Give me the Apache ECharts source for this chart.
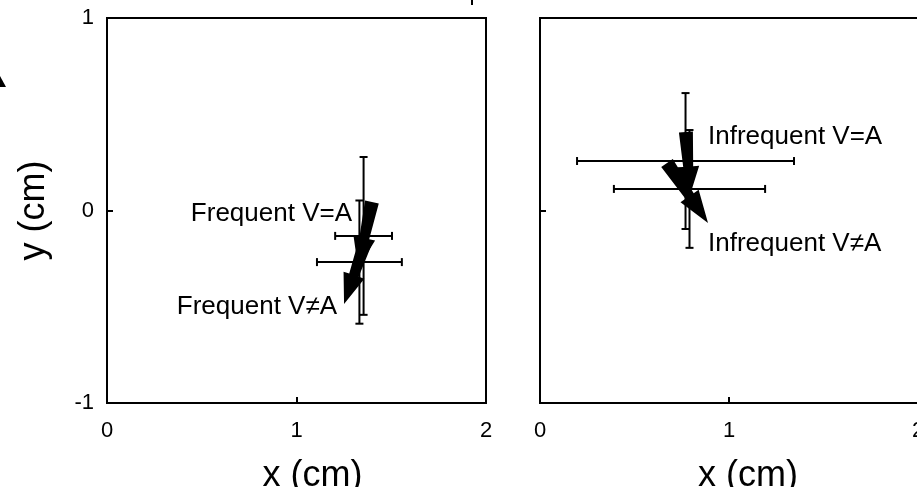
<!DOCTYPE html>
<html><head><meta charset="utf-8">
<script src="https://cdn.jsdelivr.net/npm/echarts@6/dist/echarts.min.js"></script>
<style>html,body{margin:0;padding:0;background:#fff}#c{width:917px;height:487px}</style>
</head><body><div id="c"></div>
<script>
// ---- Data (cm) ----
// Left panel: Frequent
const freqLabels = ['Frequent V=A', 'Frequent V\u2260A'];
const freqMeanX = [1.354, 1.332];
const freqMeanY = [-0.132, -0.268];
const freqErrX = [0.150, 0.224];
const freqErrY = [0.41, 0.32];
const freqArrowStart = [[1.398, 0.044], [1.367, -0.153]];
const freqArrowEnd = [[1.325, -0.299], [1.251, -0.486]];
const freqLabelAt = [[1.293, -0.008], [1.214, -0.491]];
// Right panel: Infrequent
const infreqLabels = ['Infrequent V=A', 'Infrequent V\u2260A'];
const infreqMeanX = [0.770, 0.791];
const infreqMeanY = [0.257, 0.112];
const infreqErrX = [0.574, 0.400];
const infreqErrY = [0.353, 0.306];
const infreqArrowStart = [[0.772, 0.408], [0.672, 0.247]];
const infreqArrowEnd = [[0.794, 0.081], [0.889, -0.065]];
const infreqLabelAt = [[0.889, 0.392], [0.889, -0.164]];
// Axes
const xMin = 0, xMax = 2, xStep = 1;
const yMin = -1, yMax = 1, yStep = 1;
const xTitle = 'x (cm)', yTitle = 'y (cm)';

const FONT = 'Liberation Sans, Arial, Helvetica, sans-serif';
const chart = echarts.init(document.getElementById('c'));

function errRender(params, api) {
  const x = api.value(0), y = api.value(1), ex = api.value(2), ey = api.value(3);
  const l = api.coord([x - ex, y]), r = api.coord([x + ex, y]);
  const t = api.coord([x, y + ey]), b = api.coord([x, y - ey]);
  const cap = 4;
  const style = { stroke: '#000', lineWidth: 2, fill: null };
  const ln = (x1, y1, x2, y2) => ({ type: 'line', shape: { x1, y1, x2, y2 }, style });
  return { type: 'group', children: [
    ln(l[0], l[1], r[0], r[1]),
    ln(l[0], l[1] - cap, l[0], l[1] + cap),
    ln(r[0], r[1] - cap, r[0], r[1] + cap),
    ln(t[0], t[1], b[0], b[1]),
    ln(t[0] - cap, t[1], t[0] + cap, t[1]),
    ln(b[0] - cap, b[1], b[0] + cap, b[1])
  ]};
}
function arrowRender(params, api) {
  const s = api.coord([api.value(0), api.value(1)]);
  const e = api.coord([api.value(2), api.value(3)]);
  const dx = e[0] - s[0], dy = e[1] - s[1], len = Math.hypot(dx, dy);
  const ux = dx / len, uy = dy / len, nx = -uy, ny = ux;
  const w0 = 7, w1 = 5, hl = len * 0.45, hw = 11;
  const bx = e[0] - ux * hl, by = e[1] - uy * hl;
  const pts = [
    [s[0] + nx * w0, s[1] + ny * w0], [bx + nx * w1, by + ny * w1], [bx + nx * hw, by + ny * hw],
    [e[0], e[1]],
    [bx - nx * hw, by - ny * hw], [bx - nx * w1, by - ny * w1], [s[0] - nx * w0, s[1] - ny * w0]
  ];
  return { type: 'polygon', shape: { points: pts }, style: { fill: '#000' } };
}
function labelRender(align, names) {
  return function (params, api) {
    const p = api.coord([api.value(0), api.value(1)]);
    return { type: 'text', x: p[0], y: p[1] + 2, style: {
      text: names[params.dataIndex],
      fill: '#000', font: '26px ' + FONT, align: align, verticalAlign: 'middle' } };
  };
}

const errData = (mx, my, ex, ey) => mx.map((v, i) => [v, my[i], ex[i], ey[i]]);
const arrData = (s, e) => s.map((v, i) => [v[0], v[1], e[i][0], e[i][1]]);

function xAxis(gi, pad) {
  return {
    gridIndex: gi, type: 'value', min: xMin, max: xMax, interval: xStep,
    axisLine: { show: true, onZero: false, lineStyle: { color: '#000', width: 2 } },
    axisTick: { show: true, inside: true, length: 6, lineStyle: { color: '#000', width: 2 } },
    axisLabel: { color: '#000', fontSize: 22, fontFamily: FONT, margin: 17 },
    splitLine: { show: false },
    name: xTitle, nameLocation: 'middle', nameGap: 55,
    nameTextStyle: { color: '#000', fontSize: 36, fontFamily: FONT, padding: [0, 0, 0, pad] }
  };
}
function yAxis(gi, showLabel) {
  return {
    gridIndex: gi, type: 'value', min: yMin, max: yMax, interval: yStep,
    axisLine: { show: true, onZero: false, lineStyle: { color: '#000', width: 2 } },
    axisTick: { show: true, inside: true, length: 6, lineStyle: { color: '#000', width: 2 } },
    axisLabel: { show: showLabel, color: '#000', fontSize: 22, fontFamily: FONT, margin: 13 },
    splitLine: { show: false },
    name: showLabel ? yTitle : '', nameLocation: 'middle', nameGap: 55,
    nameTextStyle: { color: '#000', fontSize: 36, fontFamily: FONT }
  };
}

chart.setOption({
  animation: false,
  backgroundColor: '#fff',
  grid: [
    { left: 107, top: 18, width: 379, height: 385, show: true, borderColor: '#000', borderWidth: 2, containLabel: false, outerBoundsMode: 'none' },
    { left: 540, top: 18, width: 378, height: 385, show: true, borderColor: '#000', borderWidth: 2, containLabel: false, outerBoundsMode: 'none' }
  ],
  xAxis: [xAxis(0, 32), xAxis(1, 38)],
  yAxis: [yAxis(0, true), yAxis(1, false)],
  series: [
    { type: 'custom', xAxisIndex: 0, yAxisIndex: 0, renderItem: errRender, data: errData(freqMeanX, freqMeanY, freqErrX, freqErrY), z: 2 },
    { type: 'custom', xAxisIndex: 0, yAxisIndex: 0, renderItem: arrowRender, data: arrData(freqArrowStart, freqArrowEnd), z: 3 },
    { type: 'custom', xAxisIndex: 0, yAxisIndex: 0, renderItem: labelRender('right', freqLabels), data: freqLabelAt, z: 4 },
    { type: 'custom', xAxisIndex: 1, yAxisIndex: 1, renderItem: errRender, data: errData(infreqMeanX, infreqMeanY, infreqErrX, infreqErrY), z: 2 },
    { type: 'custom', xAxisIndex: 1, yAxisIndex: 1, renderItem: arrowRender, data: arrData(infreqArrowStart, infreqArrowEnd), z: 3 },
    { type: 'custom', xAxisIndex: 1, yAxisIndex: 1, renderItem: labelRender('left', infreqLabels), data: infreqLabelAt, z: 4 }
  ],
  graphic: [
    { type: 'rect', left: 471, top: 0, shape: { width: 2, height: 5 }, style: { fill: '#000' } },
    { type: 'polygon', shape: { points: [[0, 76], [6, 87], [0, 87]] }, style: { fill: '#000' } }
  ]
});
</script>
</body></html>
